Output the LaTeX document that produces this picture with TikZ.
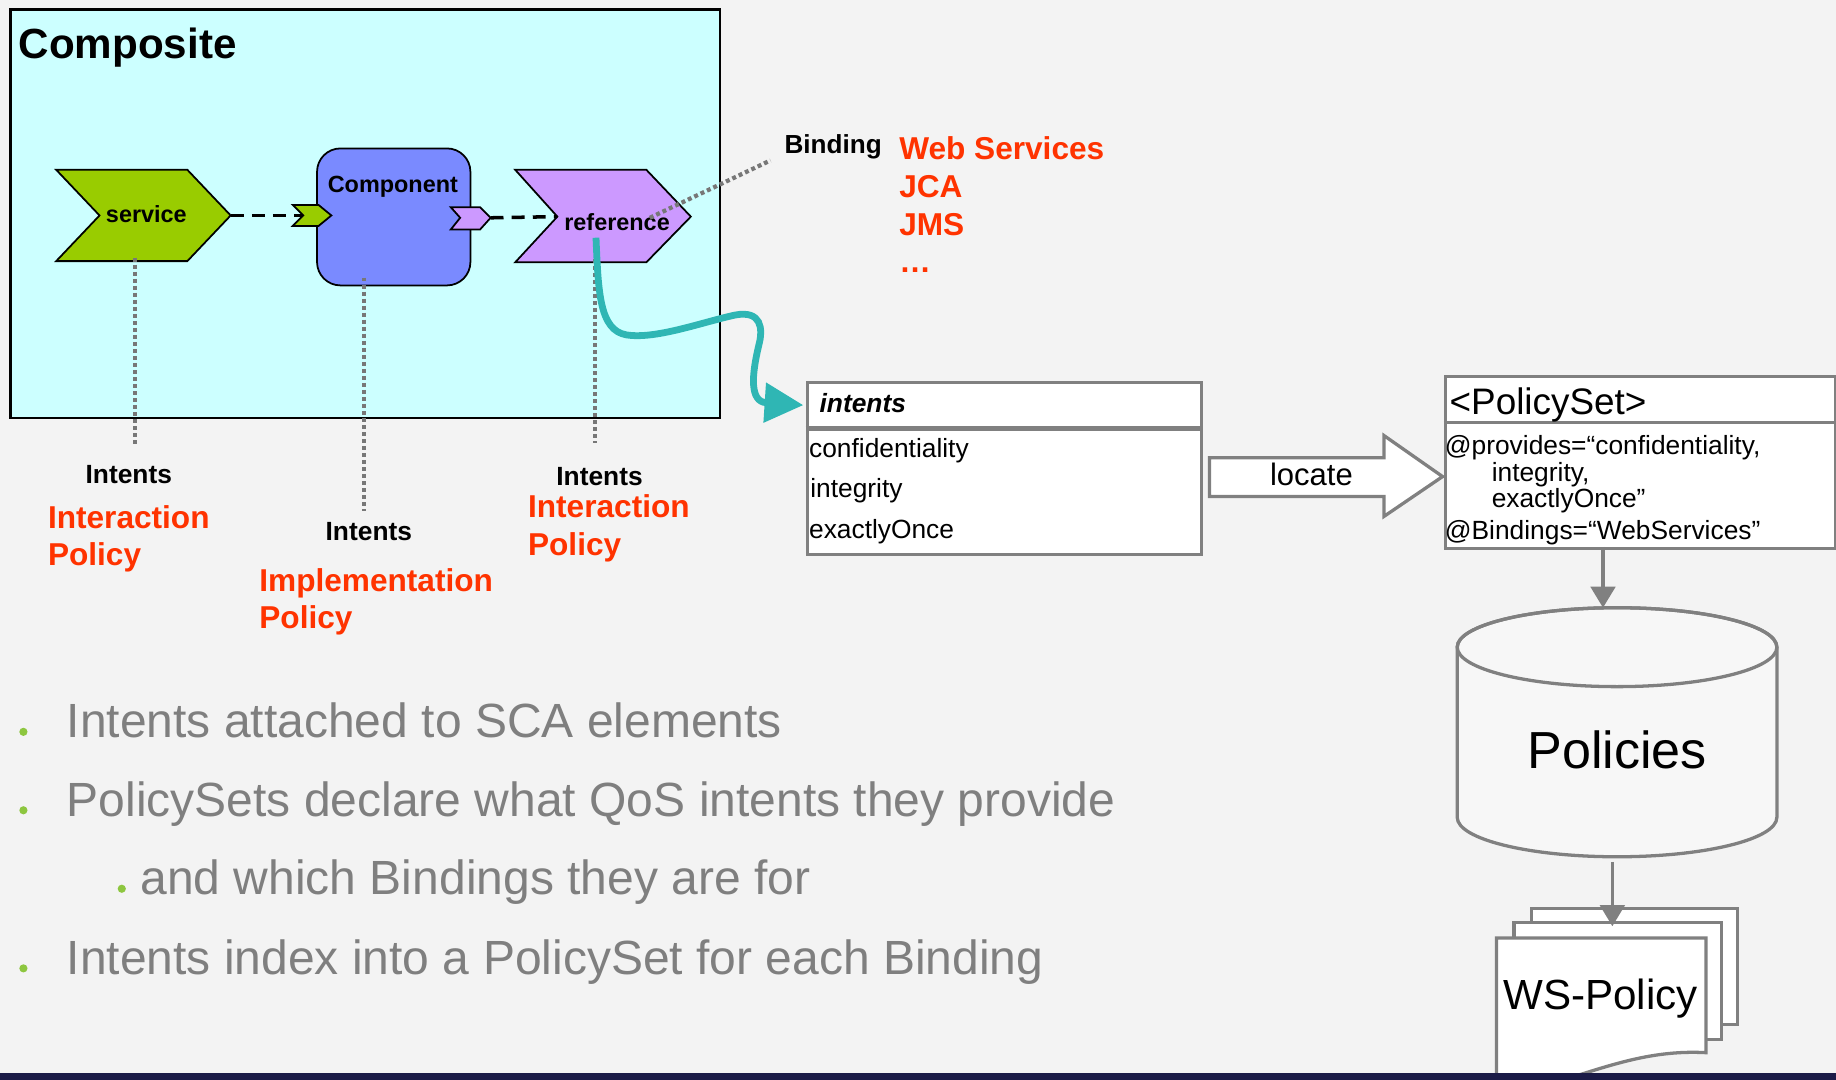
\documentclass[tikz,border=0pt]{standalone}
\usepackage{fontspec}
\setmainfont{Liberation Sans}
\usetikzlibrary{arrows.meta}
\definecolor{bgc}{HTML}{F3F3F3}
\definecolor{cyanbg}{HTML}{CCFFFF}
\definecolor{svcgreen}{HTML}{99CC00}
\definecolor{compblue}{HTML}{7A8AFF}
\definecolor{refpurple}{HTML}{CC99FF}
\definecolor{tealc}{HTML}{2FB6B4}
\definecolor{redor}{HTML}{FF3300}
\definecolor{lgray}{HTML}{808080}
\definecolor{dgray}{HTML}{777777}
\definecolor{btxt}{HTML}{7F7F7F}
\definecolor{bgreen}{HTML}{8DC63F}
\definecolor{navy}{HTML}{1B1B47}
\newcommand\myfs[1]{\fontsize{#1}{#1}\selectfont}
\begin{document}
\begin{tikzpicture}[x=1pt,y=-1pt,
  txt/.style={inner sep=0pt,outer sep=0pt},
  lblb/.style={txt,font=\bfseries\myfs{20}},
  intl/.style={txt,anchor=base,font=\bfseries\myfs{22.5}},
  redl/.style={txt,anchor=base west,font=\bfseries\myfs{27},text=redor},
  dotline/.style={draw=dgray,line width=3.6pt,dash pattern=on 3.4pt off 2.6pt},
  dashline/.style={draw=black,line width=3pt,dash pattern=on 11pt off 7pt},
  chev/.style={draw=black,line width=1.5pt,line join=miter},
  tbl/.style={draw=lgray,line width=2.8pt,fill=white,inner sep=0pt,anchor=north west},
  rowt/.style={txt,anchor=base west,font=\myfs{22.5}},
  graytip/.style={draw=lgray,line width=2.8pt,-{Triangle[length=18pt,width=21pt]}},
  page/.style={draw=lgray,line width=2.8pt,fill=white},
  bul/.style={txt,anchor=base west,font=\myfs{41},text=btxt},
  bdot/.style={fill=bgreen,draw=none}
]
\useasboundingbox (0,0) rectangle (1568,922);
\fill[bgc] (0,0) rectangle (1568,922);

% Composite
\node[draw=black,line width=2pt,fill=cyanbg,minimum width=606pt,minimum height=349pt,inner sep=0pt,anchor=north west] (compo) at (8,7) {};
\node[txt,anchor=base west,font=\bfseries\myfs{36}] (compotitle) at (16,50) {Composite};

% connection points
\coordinate (svctip) at (197,184);
\coordinate (gnotch) at (259,184);
\coordinate (ptip) at (419,186);
\coordinate (refnotch) at (476,185);

\draw[dashline] (svctip) -- (gnotch);
\draw[dashline] (ptip) -- (refnotch);

% service
\draw[chev,fill=svcgreen] (48,145) -- (160,145) -- (svctip) -- (160,223) -- (48,223) -- (85,184) -- cycle;
\node[lblb,anchor=base] (svc) at (125,190) {service};

% component
\node[draw=black,line width=1.5pt,fill=compblue,rounded corners=20pt,minimum width=131pt,minimum height=117pt,inner sep=0pt,anchor=north west] (comp) at (270,126) {};
\node[lblb,anchor=base] (complbl) at (335.5,164) {Component};
\draw[chev,fill=svcgreen] (250,175) -- (272,175) -- (283,184) -- (272,193) -- (250,193) -- (gnotch) -- cycle;
\draw[chev,fill=refpurple] (385,177) -- (410,177) -- (ptip) -- (410,196) -- (385,196) -- (393,186) -- cycle;

% reference
\draw[chev,fill=refpurple] (440,145) -- (552,145) -- (590,185) -- (552,224) -- (440,224) -- (refnotch) -- cycle;
\node[lblb,anchor=base] (ref) at (527,197) {reference};

% dotted links
\coordinate (d1a) at (115,220); \coordinate (d1b) at (115,380);
\coordinate (d2a) at (311,237); \coordinate (d2b) at (311,436);
\coordinate (d3a) at (508,221); \coordinate (d3b) at (508,378);
\coordinate (d4a) at (555,186); \coordinate (d4b) at (658,137);
\draw[dotline] (d1a) -- (d1b);
\draw[dotline] (d2a) -- (d2b);
\draw[dotline] (d3a) -- (d3b);
\draw[dotline] (d4a) -- (d4b);

% Binding labels
\node[txt,anchor=base west,font=\bfseries\myfs{22.3}] (bind) at (670,131) {Binding};
\node[redl] (ws) at (768,136) {Web Services};
\node[redl] (jca) at (768,169) {JCA};
\node[redl] (jms) at (768,201) {JMS};
\node[redl] (dots) at (768,233) {…};

% Intents labels
\node[intl] (i1) at (110,413) {Intents};
\node[redl] (ip1a) at (41,451) {Interaction};
\node[redl] (ip1b) at (41,483) {Policy};
\node[intl] (i2) at (315,462) {Intents};
\node[redl] (ip2a) at (221.5,505) {Implementation};
\node[redl] (ip2b) at (221.5,537) {Policy};
\node[intl] (i3) at (512,415) {Intents};
\node[redl] (ip3a) at (451,442) {Interaction};
\node[redl] (ip3b) at (451,474) {Policy};

% intents table
\node[tbl,minimum width=337pt,minimum height=147pt] (itab) at (688,325) {};
\draw[draw=lgray,line width=4pt] (688,366) -- (1025,366);
\node[txt,anchor=base west,font=\bfseries\itshape\myfs{22.5}] (ihead) at (700,352) {intents};
\node[rowt] (r1) at (691,391) {confidentiality};
\node[rowt] (r2) at (692,425) {integrity};
\node[rowt] (r3) at (691,459.5) {exactlyOnce};

% teal connector
\coordinate (tstart) at (509,203);
\coordinate (tend) at (686,346);
\draw[tealc,line width=5.8pt,-{Triangle[length=33pt,width=33pt]}] (tstart)
  .. controls (511,250) and (512,282) .. (535,286)
  .. controls (560,290) and (600,275) .. (628,269)
  .. controls (650,265) and (652,280) .. (648,295)
  .. controls (642,320) and (640,343) .. (tend);

% locate arrow
\draw[draw=lgray,line width=2.8pt,fill=white,line join=miter] (1033,391) -- (1182,391) -- (1182,372) -- (1232,407) -- (1182,441) -- (1182,424) -- (1033,424) -- cycle;
\node[txt,anchor=base,font=\myfs{26.5}] (loc) at (1120,415) {locate};

% PolicySet
\node[tbl,minimum width=333pt,minimum height=147pt] (ps) at (1233,320) {};
\draw[draw=lgray,line width=2.8pt] (1233,361) -- (1566,361);
\node[txt,anchor=base west,font=\myfs{31.5}] (pshead) at (1238,354) {<PolicySet>};
\node[txt,anchor=base west,font=\myfs{22.5}] (p1) at (1234,388) {@provides=“confidentiality,};
\node[txt,anchor=base west,font=\myfs{22.5}] (p2) at (1274,411) {integrity,};
\node[txt,anchor=base west,font=\myfs{22.5}] (p3) at (1274,433) {exactlyOnce”};
\node[txt,anchor=base west,font=\myfs{22.5}] (p4) at (1234,461) {@Bindings=“WebServices”};

% cylinder
\coordinate (psout) at (1369,467);
\coordinate (cyltop) at (1369,519);
\draw[graytip] (psout) -- (cyltop);
\draw[draw=lgray,line width=2.8pt,fill=white!97!black] (1244.5,552.7) -- (1244.5,698) arc[start angle=180,end angle=360,x radius=136.5pt,y radius=33.7pt] -- (1517.5,552.7) arc[start angle=0,end angle=180,x radius=136.5pt,y radius=33.7pt] -- cycle;
\draw[draw=lgray,line width=2.8pt] (1381,552.7) ellipse[x radius=136.5pt,y radius=33.7pt];
\node[txt,anchor=base,font=\myfs{44.5}] (pol) at (1381,656) {Policies};

% WS-Policy pages
\draw[page] (1308,776) rectangle (1484,875);
\draw[page] (1293,788) rectangle (1470,888);
\draw[page] (1278,928) -- (1278,801) -- (1457,801) -- (1457,899) .. controls (1420,897) and (1390,905) .. (1355,916) .. controls (1320,927) and (1300,930) .. (1278,928);
\coordinate (cylout) at (1377,736);
\coordinate (docin) at (1377,791);
\draw[graytip] (cylout) -- (docin);
\node[txt,anchor=base,font=\myfs{36}] (wsp) at (1367,862) {WS-Policy};

% bullets
\fill[bdot] (20,625) circle (3.5pt);
\fill[bdot] (20,692) circle (3.5pt);
\fill[bdot] (104,759) circle (3.5pt);
\fill[bdot] (20,827) circle (3.5pt);
\node[bul] (b1) at (57,630) {Intents attached to SCA elements};
\node[bul] (b2) at (57,697) {PolicySets declare what QoS intents they provide};
\node[bul] (b3) at (120,764) {and which Bindings they are for};
\node[bul] (b4) at (57,832) {Intents index into a PolicySet for each Binding};

% bottom strip
\fill[navy] (0,916) rectangle (1568,922);
\end{tikzpicture}
\end{document}
